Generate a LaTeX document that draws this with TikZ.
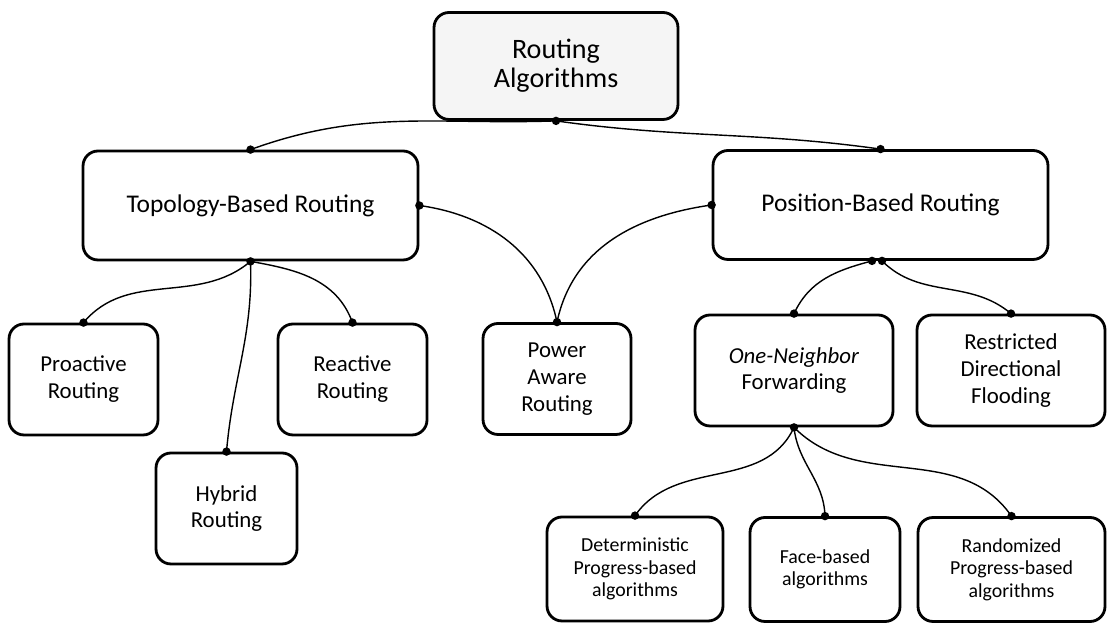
\documentclass[tikz,border=0pt]{standalone}
\usepackage{fontspec}
\setmainfont{Carlito}
\usepackage{tikz}

\tikzset{
	box/.style={draw, line width=1.6pt, rounded corners=0.3cm, align=center, inner sep=2pt, font=\fontsize{13}{15.3}\selectfont},
	topbox/.style={box, minimum width=6.7cm, minimum height=2.18cm, font=\fontsize{14.5}{17}\selectfont},
	leafbox/.style={box, minimum height=2.22cm},
	algbox/.style={box, minimum height=2.08cm, font=\fontsize{11.3}{12.8}\selectfont},
	link/.style={line width=0.8pt},
}

\begin{document}
\begin{tikzpicture}[x=0.02cm, y=0.02cm]
	\useasboundingbox (0,0) rectangle (1108,625);
	\node[box, fill=gray!8, minimum width=4.88cm, minimum height=2.14cm, font=\fontsize{16}{16.5}\selectfont] (root) at (556,559) {Routing\\Algorithms};
	\node[topbox] (topo) at (250.5,419.5) {Topology-Based Routing};
	\node[topbox] (pos) at (880.5,420) {Position-Based Routing};
	\node[leafbox, minimum width=2.98cm] (proactive) at (83.5,245.5) {Proactive\\Routing};
	\node[leafbox, minimum width=2.98cm] (reactive) at (352.5,245.5) {Reactive\\Routing};
	\node[leafbox, minimum width=2.82cm] (hybrid) at (226.5,116.5) {Hybrid\\Routing};
	\node[leafbox, minimum width=2.96cm] (power) at (557,246) {Power\\Aware\\Routing};
	\node[leafbox, minimum width=3.96cm] (oneneighbor) at (794,254.5) {\textit{One-Neighbor}\\Forwarding};
	\node[leafbox, minimum width=3.76cm] (restricted) at (1011,254.5) {Restricted\\Directional\\Flooding};
	\node[algbox, minimum width=3.52cm] (determ) at (635,56) {Deterministic\\Progress-based\\algorithms};
	\node[algbox, minimum width=3cm] (face) at (825,55.5) {Face-based\\algorithms};
	\node[algbox, minimum width=3.74cm] (random) at (1011.5,55.5) {Randomized\\Progress-based\\algorithms};

	\coordinate (pos-a) at ([xshift=-0.17cm]pos.south);
	\coordinate (pos-b) at ([xshift=0.03cm]pos.south);

	\draw[link] (root.south) to[out=182,in=20] (topo.north);
	\draw[link] (root.south) to[out=-8,in=172] (pos.north);
	\draw[link] (topo.south) to[out=220,in=50] (proactive.north);
	\draw[link] (topo.south) to[out=-88,in=85] (hybrid.north);
	\draw[link] (topo.south) to[out=-10,in=110] (reactive.north);
	\draw[link] (topo.east) to[out=-8,in=102] (power.north);
	\draw[link] (pos.west) to[out=188,in=78] (power.north);
	\draw[link] (pos-a) to[out=195,in=65] (oneneighbor.north);
	\draw[link] (pos-b) to[out=-45,in=140] (restricted.north);
	\draw[link] (oneneighbor.south) to[out=245,in=55] (determ.north);
	\draw[link] (oneneighbor.south) to[out=-84,in=92] (face.north);
	\draw[link] (oneneighbor.south) to[out=-45,in=125] (random.north);

	\foreach \p in {root.south, topo.north, topo.south, topo.east, pos.north, pos.west, pos-a, pos-b,
		proactive.north, reactive.north, hybrid.north, power.north, oneneighbor.north, oneneighbor.south,
		restricted.north, determ.north, face.north, random.north}
		\fill (\p) circle (2.4pt);
\end{tikzpicture}
\end{document}
